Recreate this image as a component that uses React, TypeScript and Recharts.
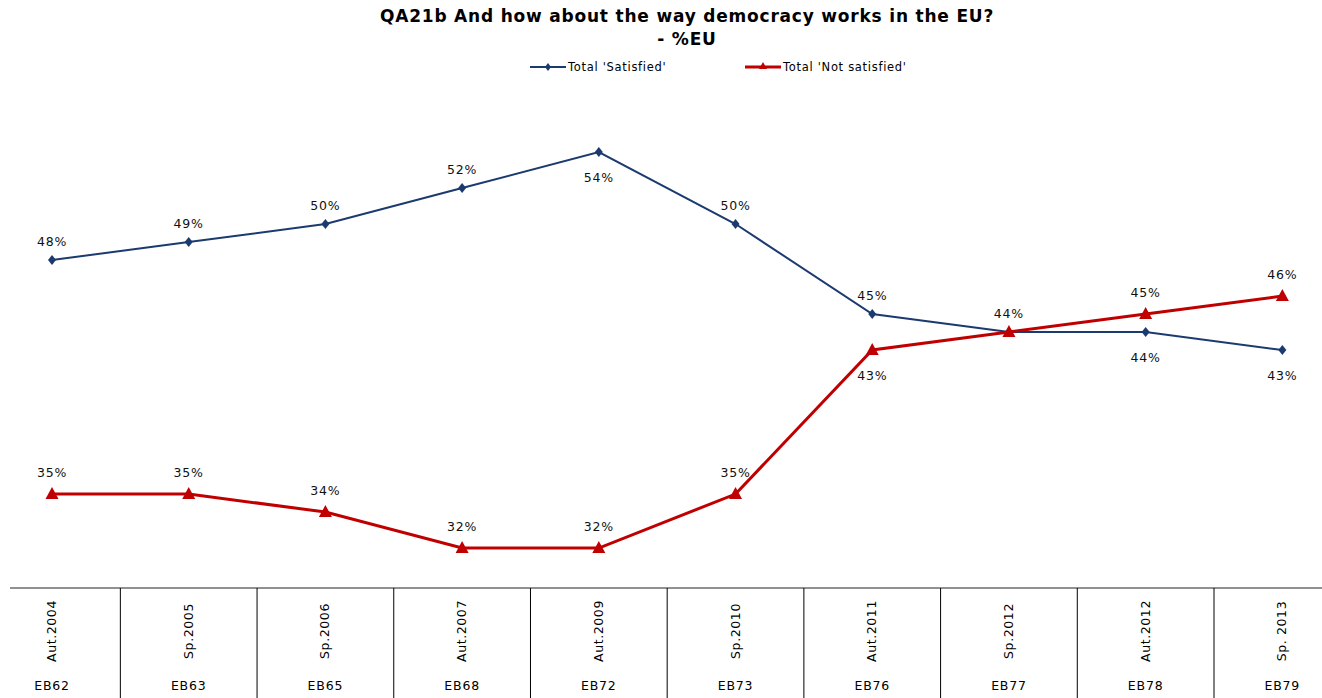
import React from "react";
import { LineChart, Line, XAxis, YAxis, LabelList } from "recharts";

const waves = ["Aut.2004", "Sp.2005", "Sp.2006", "Aut.2007", "Aut.2009", "Sp.2010", "Aut.2011", "Sp.2012", "Aut.2012", "Sp. 2013"];
const surveys = ["EB62", "EB63", "EB65", "EB68", "EB72", "EB73", "EB76", "EB77", "EB78", "EB79"];
const satisfied = [48, 49, 50, 52, 54, 50, 45, 44, 44, 43];
const notSatisfied = [35, 35, 34, 32, 32, 35, 43, 44, 45, 46];

const data = waves.map((w, i) => ({ idx: i, wave: w, eb: surveys[i], sat: satisfied[i], notSat: notSatisfied[i] }));

const W = 1322;
const H = 698;
const FONT = "'DejaVu Sans', Verdana, sans-serif";
const BLUE = "#1B3A6F";
const RED = "#C00000";
const X_DOMAIN: [number, number] = [-0.3072, 9.29];
const PLOT_LEFT = 10;
const PLOT_RIGHT = 0;
const BAND = (W - PLOT_LEFT - PLOT_RIGHT) / (X_DOMAIN[1] - X_DOMAIN[0]);

const satBelow = new Set([4, 8, 9]);
const notSatBelow = new Set([6]);
const notSatHidden = new Set([7]);

const Tick = (props: any) => {
  const { x, y, payload } = props;
  const i = payload.value as number;
  return (
    <g>
      <text
        x={0}
        y={0}
        transform={`translate(${x + 4},${y + 43}) rotate(-90)`}
        textAnchor="middle"
        fontSize={12.5}
        letterSpacing={0.6}
        fontFamily={FONT}
        fill="#000"
      >
        {waves[i]}
      </text>
      <text x={x} y={y + 102} textAnchor="middle" fontSize={12.5} letterSpacing={0.8} fontFamily={FONT} fill="#000">
        {surveys[i]}
      </text>
      {i < waves.length - 1 && (
        <line x1={x + BAND / 2} x2={x + BAND / 2} y1={y} y2={y + 110} stroke="#000" strokeWidth={1} />
      )}
    </g>
  );
};

const Diamond = (props: any) => {
  const { cx, cy } = props;
  if (cx == null || cy == null) return null;
  return <path d={`M${cx},${cy - 5}L${cx + 4},${cy}L${cx},${cy + 5}L${cx - 4},${cy}Z`} fill={BLUE} />;
};

const Triangle = (props: any) => {
  const { cx, cy } = props;
  if (cx == null || cy == null) return null;
  return <path d={`M${cx},${cy - 7}L${cx + 6.5},${cy + 5}L${cx - 6.5},${cy + 5}Z`} fill={RED} />;
};

const makeLabel = (below: Set<number>, hidden: Set<number>, up: number) => (props: any) => {
  const { x, y, value, index } = props;
  if (hidden.has(index)) return null;
  const dy = below.has(index) ? 30 : -up;
  return (
    <text x={x} y={y + dy} textAnchor="middle" fontSize={12.5} letterSpacing={0.8} fontFamily={FONT} fill="#111">
      {`${value}%`}
    </text>
  );
};

export default function App() {
  return (
    <div style={{ position: "absolute", left: 0, top: 0, width: W, height: H, background: "#fff", overflow: "hidden" }}>
      <div
        style={{
          position: "absolute",
          left: 26,
          top: 5,
          width: W,
          textAlign: "center",
          fontFamily: FONT,
          fontWeight: "bold",
          fontSize: 17,
          letterSpacing: 0.8,
          lineHeight: "23px",
          color: "#000",
        }}
      >
        <div>QA21b And how about the way democracy works in the EU?</div>
        <div>- %EU</div>
      </div>
      <div style={{ position: "absolute", left: 530, top: 60, fontFamily: FONT, fontSize: 11.5, letterSpacing: 0.7, color: "#000", display: "flex", alignItems: "center" }}>
        <svg width={36} height={12}>
          <line x1={0} y1={6} x2={36} y2={6} stroke={BLUE} strokeWidth={2} />
          <path d="M18,2L21,6L18,10L15,6Z" fill={BLUE} />
        </svg>
        <span style={{ marginLeft: 2 }}>Total 'Satisfied'</span>
      </div>
      <div style={{ position: "absolute", left: 745, top: 60, fontFamily: FONT, fontSize: 11.5, letterSpacing: 0.7, color: "#000", display: "flex", alignItems: "center" }}>
        <svg width={36} height={12}>
          <line x1={0} y1={6} x2={36} y2={6} stroke={RED} strokeWidth={3} />
          <path d="M18,1L22,8L14,8Z" fill={RED} />
        </svg>
        <span style={{ marginLeft: 2 }}>Total 'Not satisfied'</span>
      </div>
      <div style={{ position: "absolute", left: 0, top: 0 }}>
        <LineChart width={W} height={H} data={data} margin={{ top: 100, right: PLOT_RIGHT, bottom: 0, left: PLOT_LEFT }}>
          <XAxis
            dataKey="idx"
            type="number"
            domain={X_DOMAIN}
            ticks={[0, 1, 2, 3, 4, 5, 6, 7, 8, 9]}
            interval={0}
            allowDataOverflow
            height={110}
            tickSize={0}
            tickMargin={0}
            tickLine={false}
            axisLine={{ stroke: "#222", strokeWidth: 1 }}
            tick={<Tick />}
          />
          <YAxis hide domain={[29.78, 56.89]} allowDataOverflow />
          <Line
            dataKey="sat"
            stroke={BLUE}
            strokeWidth={2}
            dot={<Diamond />}
            activeDot={false}
            isAnimationActive={false}
          >
            <LabelList dataKey="sat" content={makeLabel(satBelow, new Set(), 14)} />
          </Line>
          <Line
            dataKey="notSat"
            stroke={RED}
            strokeWidth={3}
            dot={<Triangle />}
            activeDot={false}
            isAnimationActive={false}
          >
            <LabelList dataKey="notSat" content={makeLabel(notSatBelow, notSatHidden, 17)} />
          </Line>
        </LineChart>
      </div>
    </div>
  );
}
